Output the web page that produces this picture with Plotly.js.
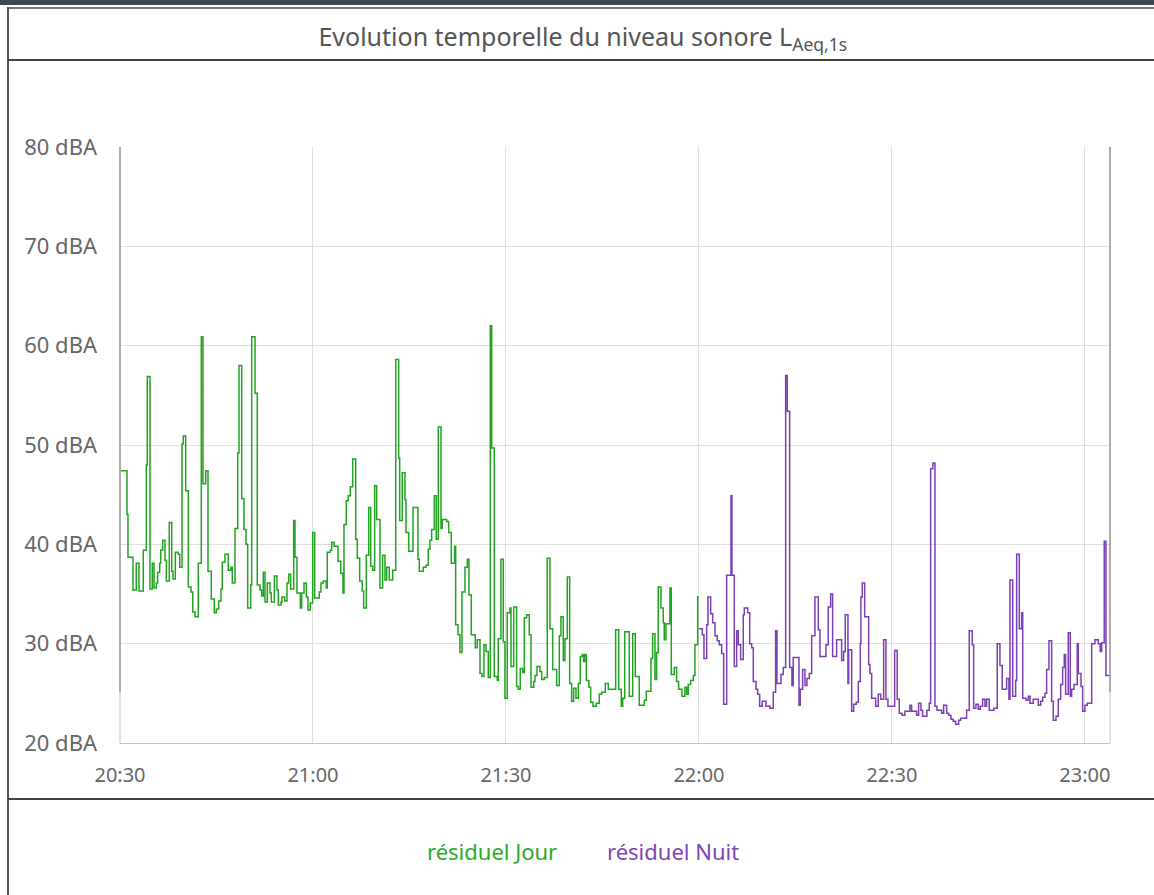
<!DOCTYPE html>
<html><head><meta charset="utf-8">
<script src="https://cdn.plot.ly/plotly-3.0.1.min.js"></script>
<style>
html,body{margin:0;padding:0;background:#fff;}
#chart{position:absolute;left:0;top:0;width:1154px;height:895px;}
.fr{position:absolute;pointer-events:none;}
</style></head><body>
<div id="chart"></div>
<div class="fr" style="left:0;top:0;width:1154px;height:5px;background:#3f4850;"></div>
<div class="fr" style="left:8px;top:7px;width:1146px;height:2px;background:#777;"></div>
<div class="fr" style="left:7px;top:7px;width:2px;height:888px;background:#555;"></div>
<div class="fr" style="left:8px;top:59px;width:1146px;height:2px;background:#444;"></div>
<div class="fr" style="left:8px;top:798px;width:1146px;height:2px;background:#444;"></div>
<script>
// elapsed minutes after 20:30 and LAeq,1s levels (dBA)
const tJour = [0.00,1.09,1.24,2.02,2.53,2.95,3.62,4.09,4.24,4.66,5.02,5.29,5.64,5.86,6.17,6.33,6.64,7.00,7.20,7.66,8.04,8.24,8.60,9.06,9.28,9.64,9.84,10.21,10.62,11.04,11.30,11.66,12.17,12.64,12.90,13.32,13.68,14.19,14.66,14.97,15.34,15.70,15.90,16.32,16.83,17.25,17.46,17.88,18.30,18.50,18.92,19.27,
19.59,19.85,20.32,20.47,20.99,21.34,21.76,22.03,22.28,22.54,22.90,23.32,23.52,23.99,24.40,24.61,25.03,25.18,25.60,25.96,26.22,26.53,27.00,27.20,27.51,28.03,28.24,28.60,28.96,29.22,29.58,29.95,30.26,30.98,31.24,31.60,32.07,32.22,32.69,32.91,33.27,33.89,34.31,34.66,34.82,35.18,35.49,35.80,36.17,36.64,36.89,37.26,37.66,37.88,38.29,38.66,
38.97,39.28,39.59,39.90,40.41,40.83,41.19,41.46,41.86,42.39,42.86,43.32,43.48,43.88,44.30,44.46,44.88,45.55,46.32,46.53,47.15,47.57,47.92,48.19,48.45,48.86,49.17,49.48,49.90,50.10,50.78,51.09,51.50,52.02,52.18,52.54,52.85,53.16,53.63,53.99,54.25,54.61,55.23,55.54,55.96,56.27,56.58,56.89,57.25,57.56,57.78,58.18,
58.65,58.80,59.22,59.58,59.84,60.20,60.62,60.78,61.20,61.66,61.91,62.22,62.60,62.85,63.22,63.62,63.89,64.31,64.51,64.82,65.29,65.55,65.96,66.42,66.84,67.26,67.88,68.29,68.55,68.91,69.17,69.53,69.90,70.21,70.52,70.88,71.24,71.55,71.86,72.08,72.23,72.49,72.90,73.17,73.53,74.04,74.50,74.88,75.44,75.91,77.05,77.52,
77.93,78.15,78.46,79.17,79.70,80.10,80.72,81.50,81.81,82.54,82.80,83.16,83.42,83.67,84.09,84.45,84.61,84.87,85.49,85.70,86.16,86.53,86.84,87.36,87.82,88.09,88.34,88.71,89.12,89.38,89.80,90.00];
const lJour = [47.4,43.0,38.7,35.4,38.1,35.3,39.4,48.0,56.9,35.5,38.1,35.6,36.1,37.2,38.1,39.4,40.4,38.4,36.3,42.2,37.3,36.5,39.2,39.0,37.7,50.1,50.9,45.4,35.7,35.2,33.2,32.7,38.1,60.9,46.1,47.4,37.3,34.5,33.1,33.5,34.3,35.5,38.2,39.0,37.4,37.7,36.1,41.6,49.2,58.0,44.6,41.5,
40.0,33.6,35.9,60.9,55.2,35.9,35.4,34.8,37.2,34.2,36.1,35.1,34.2,36.8,35.4,33.9,34.2,34.7,34.3,36.1,37.0,35.5,42.4,38.7,35.1,33.6,35.1,36.1,34.7,33.4,34.1,41.2,34.6,35.2,36.1,36.3,35.6,39.2,39.4,40.2,39.8,38.3,37.1,35.1,42.0,44.4,44.9,45.8,48.6,40.5,38.6,36.3,35.3,33.6,38.9,43.7,
37.8,37.4,45.9,42.5,35.6,38.9,36.4,37.7,36.4,37.4,58.6,48.7,42.4,47.2,44.5,41.2,39.3,43.7,38.5,37.3,37.7,37.9,39.5,40.4,41.5,44.9,40.5,51.8,41.6,42.5,42.3,41.2,38.1,39.8,31.9,30.9,29.1,35.2,37.7,38.5,34.9,30.9,29.6,30.4,27.0,26.7,29.9,29.2,26.6,62.0,49.7,26.7,
26.3,30.5,38.5,30.2,24.5,33.1,33.6,27.7,33.7,25.7,25.4,27.5,27.1,32.6,32.9,30.9,25.6,26.2,26.8,27.7,27.2,26.4,26.6,38.6,31.5,27.4,25.8,30.8,32.7,28.3,30.5,36.7,26.0,24.2,25.5,24.5,26.0,28.7,28.9,28.2,28.9,26.3,25.6,24.1,23.7,24.0,24.9,25.1,26.0,25.4,31.4,25.4,
23.7,24.5,31.2,24.7,31.0,26.7,23.8,24.3,25.2,28.5,31.0,26.4,29.1,35.7,33.6,32.1,30.4,32.0,35.6,26.9,27.6,26.2,25.4,24.7,25.6,24.9,25.9,26.3,26.8,29.9,34.7,34.7];
const tNuit = [90.00,90.52,90.78,91.20,91.40,91.82,92.13,92.49,92.85,93.16,93.53,93.84,94.31,94.98,95.13,95.49,95.86,96.11,96.48,96.89,97.05,
97.58,97.89,98.20,98.45,98.87,99.13,99.44,99.84,100.42,101.04,101.55,101.92,102.13,102.75,103.11,103.48,103.73,104.10,104.46,104.66,105.55,105.75,106.12,106.48,106.79,107.15,107.52,108.03,108.55,108.81,109.74,110.10,110.47,110.78,111.40,112.18,112.49,112.74,113.16,113.27,113.74,114.05,114.45,114.77,115.08,115.18,115.39,115.76,116.38,
116.58,116.85,117.47,117.87,118.25,118.71,119.07,119.38,120.42,120.82,121.14,121.56,122.02,122.80,123.06,123.84,124.15,124.51,124.77,125.44,125.80,126.02,126.37,126.69,127.00,127.73,128.04,128.50,128.82,129.17,129.53,129.90,130.37,130.68,131.61,132.02,132.48,132.70,133.06,133.42,133.73,134.10,134.46,134.72,135.13,135.86,
136.37,136.79,137.15,137.83,138.19,138.35,138.77,139.23,139.39,139.80,140.17,140.33,140.84,141.20,141.46,141.97,142.75,143.12,143.43,143.79,144.05,144.41,144.83,145.08,145.50,145.86,146.23,146.54,146.79,147.00,147.41,147.72,147.94,148.30,148.81,148.97,149.39,149.65,150.00,150.36,151.05,151.56,152.07,152.38,152.60,153.00,153.27,153.89];
const lNuit = [31.5,30.9,28.5,31.9,34.7,33.0,32.1,30.8,30.3,29.9,29.0,23.9,36.9,44.9,36.9,27.7,31.3,29.9,28.4,32.9,33.6,
33.1,30.0,29.6,26.2,25.4,24.9,23.7,24.2,23.7,23.5,25.1,31.3,26.0,26.9,27.6,57.0,53.4,27.6,25.8,28.6,23.8,25.4,27.4,25.8,26.5,27.0,30.8,34.7,31.4,28.7,29.9,33.7,35.0,28.7,30.4,28.3,29.2,32.9,26.0,29.4,23.2,23.9,24.1,26.2,30.0,34.7,36.1,32.7,27.9,
27.0,24.5,23.7,24.9,24.4,30.4,24.4,23.7,29.3,24.4,23.0,22.8,23.2,23.8,23.2,22.8,24.0,23.3,22.7,23.3,24.0,47.6,48.2,23.7,23.3,23.0,23.8,23.0,22.8,22.4,22.2,21.9,22.3,22.5,23.3,31.3,29.9,23.5,23.9,23.4,23.7,24.4,23.7,24.4,23.3,23.5,
30.0,27.8,25.4,26.5,24.4,36.4,24.7,26.3,39.0,31.5,33.1,24.5,24.3,24.7,24.0,24.4,23.8,24.2,24.6,25.0,27.4,30.3,24.2,22.3,22.7,24.4,25.9,27.6,28.9,24.9,31.1,24.7,25.4,25.9,30.0,27.0,25.7,23.2,23.8,24.0,30.0,30.4,30.0,29.2,30.1,40.3,26.8,26.8];
const seriesNames = ['résiduel Jour','résiduel Nuit'];
const seriesColors = ['#22a322','#7b3fb6'];
const legendColors = ['#2aab2a','#7f45b3'];
const yTicks = [20,30,40,50,60,70,80];

const base = Date.UTC(2024,0,1,20,30,0);
const toDate = m => base + Math.round(m*60000);
const FONT = '"Noto Sans", "Open Sans", sans-serif';

const traces = [
  {x: tJour.map(toDate), y: lJour, name: seriesNames[0], type:'scatter', mode:'lines',
   line:{shape:'hv', color: seriesColors[0], width:1.5}, showlegend:false, hoverinfo:'x+y'},
  {x: tNuit.map(toDate), y: lNuit, name: seriesNames[1], type:'scatter', mode:'lines',
   line:{shape:'hv', color: seriesColors[1], width:1.5}, showlegend:false, hoverinfo:'x+y'}
];

const layout = {
  width:1154, height:895,
  margin:{l:120, r:44, t:147, b:152},
  paper_bgcolor:'#fff', plot_bgcolor:'#fff',
  font:{family: FONT, color:'#666'},
  title:{text:'Evolution temporelle du niveau sonore L<sub>Aeq,1s</sub>', font:{size:25, color:'#555', family: FONT},
         x:0.505, xref:'container', xanchor:'center', y:1-37/895, yref:'container', yanchor:'middle'},
  xaxis:{type:'date', range:[toDate(0), toDate(153.9)], tick0: toDate(0), dtick: 1800000,
         tickformat:'%H:%M', showgrid:true, gridcolor:'#dedede', gridwidth:1,
         showline:true, linecolor:'#c4c4c4', linewidth:1, zeroline:false, ticks:'',
         ticklabelstandoff: 14, tickfont:{size:20, color:'#666'}},
  yaxis:{range:[20,80], tickvals: yTicks, ticktext: yTicks.map(v=>v+' dBA'),
         showgrid:true, gridcolor:'#dedede', gridwidth:1, zeroline:false, showline:false, ticks:'',
         ticklabelstandoff: 22, tickfont:{size:22, color:'#666'}},
  shapes:[
    {type:'line', xref:'paper', yref:'y', x0:0, x1:0, y0:20, y1:80, line:{color:'#d8d8d8', width:1.5}},
    {type:'line', xref:'paper', yref:'y', x0:0, x1:0, y0:25.1, y1:80, line:{color:'#9a9a9a', width:1.5}},
    {type:'line', xref:'paper', yref:'y', x0:1, x1:1, y0:20, y1:80, line:{color:'#d8d8d8', width:1.5}},
    {type:'line', xref:'paper', yref:'y', x0:1, x1:1, y0:25.1, y1:80, line:{color:'#9a9a9a', width:1.5}}
  ],
  annotations:[
    {text: seriesNames[0], xref:'paper', yref:'paper', x:(492-120)/990, y:-(851-743)/596, xanchor:'center', yanchor:'middle',
     showarrow:false, font:{size:22, color: legendColors[0], family: FONT}},
    {text: seriesNames[1], xref:'paper', yref:'paper', x:(673-120)/990, y:-(851-743)/596, xanchor:'center', yanchor:'middle',
     showarrow:false, font:{size:22, color: legendColors[1], family: FONT}}
  ]
};
Plotly.newPlot('chart', traces, layout, {displayModeBar:false, staticPlot:true});
</script>
</body></html>
